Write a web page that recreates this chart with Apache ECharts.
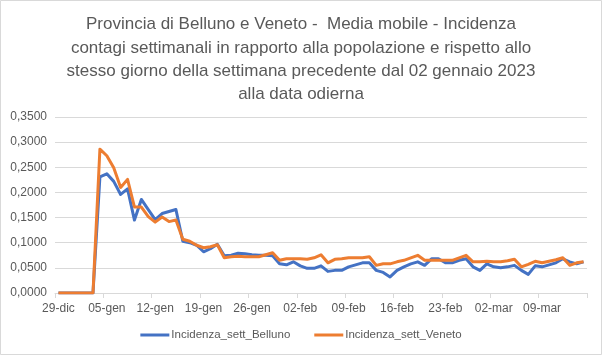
<!DOCTYPE html>
<html>
<head>
<meta charset="utf-8">
<script src="https://cdn.jsdelivr.net/npm/echarts@6/dist/echarts.min.js"></script>
<style>
html,body{margin:0;padding:0;background:#fff;}
#chart{width:602px;height:355px;}
</style>
</head>
<body>
<div id="chart"></div>
<script>
var categories = [
 '29-dic','30-dic','31-dic',
 '01-gen','02-gen','03-gen','04-gen','05-gen','06-gen','07-gen','08-gen','09-gen','10-gen',
 '11-gen','12-gen','13-gen','14-gen','15-gen','16-gen','17-gen','18-gen','19-gen','20-gen',
 '21-gen','22-gen','23-gen','24-gen','25-gen','26-gen','27-gen','28-gen','29-gen','30-gen','31-gen',
 '01-feb','02-feb','03-feb','04-feb','05-feb','06-feb','07-feb','08-feb','09-feb','10-feb',
 '11-feb','12-feb','13-feb','14-feb','15-feb','16-feb','17-feb','18-feb','19-feb','20-feb',
 '21-feb','22-feb','23-feb','24-feb','25-feb','26-feb','27-feb','28-feb',
 '01-mar','02-mar','03-mar','04-mar','05-mar','06-mar','07-mar','08-mar','09-mar','10-mar',
 '11-mar','12-mar','13-mar','14-mar','15-mar'
];
var belluno = [
 0,0,0,0,0,0,
 0.231,0.237,0.222,0.196,0.207,0.145,0.186,0.166,0.146,0.158,0.162,0.166,
 0.103,0.100,0.095,0.082,0.088,0.097,0.074,0.075,0.079,0.078,0.076,0.075,0.075,0.074,
 0.058,0.056,0.062,0.054,0.049,0.049,0.054,0.043,0.045,0.045,0.052,0.056,0.060,0.060,
 0.045,0.041,0.032,0.045,0.052,0.058,0.062,0.055,0.068,0.068,0.060,0.060,0.065,0.068,
 0.052,0.045,0.058,0.052,0.050,0.052,0.055,0.045,0.037,0.054,0.052,0.056,0.060,0.068,
 0.062,0.058,0.062
];
var veneto = [
 0,0,0,0,0,0,
 0.286,0.273,0.249,0.210,0.226,0.171,0.171,0.152,0.141,0.151,0.142,0.145,
 0.107,0.103,0.095,0.090,0.092,0.096,0.070,0.072,0.073,0.072,0.072,0.072,0.076,0.080,
 0.065,0.068,0.068,0.068,0.067,0.070,0.076,0.060,0.067,0.068,0.070,0.070,0.070,0.072,
 0.055,0.058,0.058,0.062,0.065,0.070,0.075,0.065,0.065,0.065,0.065,0.065,0.070,0.075,
 0.062,0.062,0.063,0.062,0.062,0.064,0.067,0.052,0.057,0.063,0.060,0.063,0.066,0.070,
 0.055,0.060,0.062
];
var seriesNames = ['Incidenza_sett_Belluno','Incidenza_sett_Veneto'];
var titleLines = [
 'Provincia di Belluno e Veneto -  Media mobile - Incidenza',
 'contagi settimanali in rapporto alla popolazione e rispetto allo',
 'stesso giorno della settimana precedente dal 02 gennaio 2023',
 'alla data odierna'
];

var FONT = "'Liberation Sans',Arial,sans-serif";
var chart = echarts.init(document.getElementById('chart'), null, {renderer:'canvas'});
chart.setOption({
  animation:false,
  backgroundColor:'#ffffff',
  graphic:[{type:'rect',shape:{x:0.5,y:0.5,width:601,height:354},style:{fill:'none',stroke:'#d9d9d9',lineWidth:1},silent:true}],
  title:{
    text:titleLines.join('\n'),
    left:'center', top:8,
    textStyle:{fontFamily:FONT,fontSize:17,fontWeight:'normal',color:'#595959',lineHeight:23.3,align:'center'}
  },
  legend:{
    data:seriesNames,
    bottom:9, left:'center',
    icon:'rect', itemWidth:29, itemHeight:3, itemGap:24,
    textStyle:{fontFamily:FONT,fontSize:11.5,color:'#595959',padding:[0,0,0,-3]}
  },
  grid:{left:55,right:15,top:117,bottom:62,containLabel:false},
  xAxis:{
    type:'category', data:categories, boundaryGap:true,
    axisLine:{lineStyle:{color:'#d9d9d9',width:1}},
    axisTick:{show:true,interval:6,length:5,lineStyle:{color:'#d9d9d9'}},
    axisLabel:{interval:6,color:'#595959',fontFamily:FONT,fontSize:12,margin:10},
    splitLine:{show:false}
  },
  yAxis:{
    type:'value', min:0, max:0.35, interval:0.05,
    axisLine:{show:false}, axisTick:{show:false},
    axisLabel:{color:'#595959',fontFamily:FONT,fontSize:12,margin:8,
      formatter:function(v){return v.toFixed(4).replace('.',',');}},
    splitLine:{lineStyle:{color:'#d9d9d9',width:1}}
  },
  series:[
    {name:seriesNames[0],type:'line',data:belluno,showSymbol:false,symbol:'none',
     lineStyle:{color:'#4472C4',width:3,join:'round'},itemStyle:{color:'#4472C4'}},
    {name:seriesNames[1],type:'line',data:veneto,showSymbol:false,symbol:'none',
     lineStyle:{color:'#ED7D31',width:3,join:'round'},itemStyle:{color:'#ED7D31'}}
  ]
});
</script>
</body>
</html>
